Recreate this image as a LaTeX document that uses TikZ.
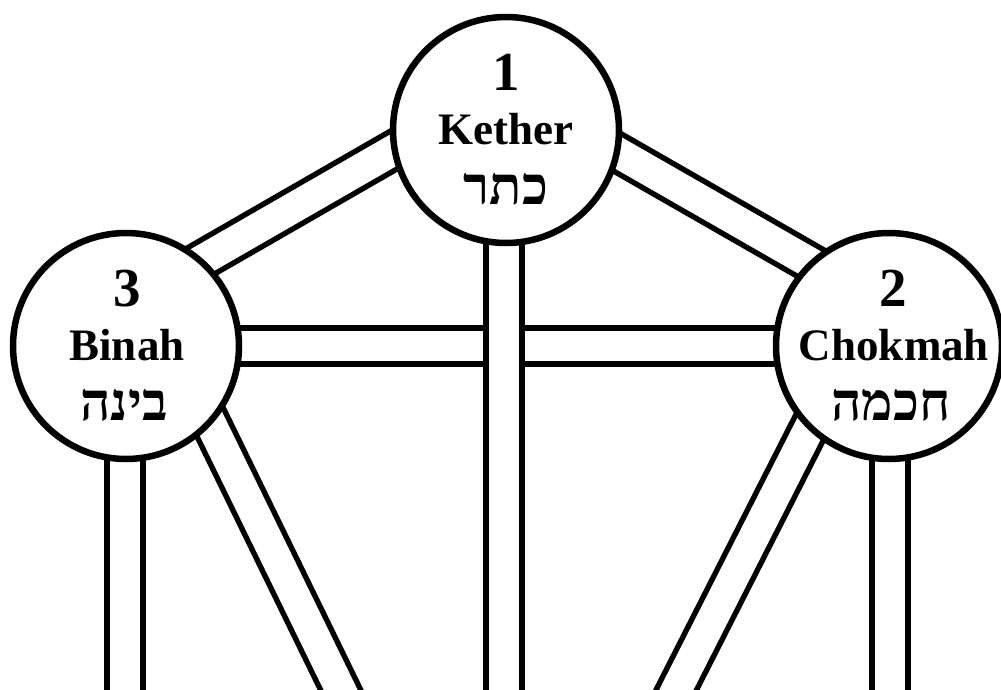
\documentclass[tikz,border=0pt]{standalone}
\usepackage{fontspec}
\setmainfont{Liberation Serif}
\newfontfamily\hebfont[Script=Hebrew]{Liberation Serif}
\TeXXeTstate=1
\usetikzlibrary{calc}
\begin{document}
\begin{tikzpicture}[x=1pt,y=-1pt,
  sephira/.style={circle, draw=black, line width=6.5pt, fill=white, minimum size=226pt, inner sep=0pt},
  pathway/.style={draw=black, line width=5.5pt, double=white, double distance=30.5pt},
  numtext/.style={anchor=base, font=\bfseries\fontsize{55}{55}\selectfont},
  nametext/.style={anchor=base, font=\bfseries\fontsize{45}{45}\selectfont},
  hebtext/.style={anchor=base, font=\hebfont\bfseries\fontsize{53}{53}\selectfont}]
\path[use as bounding box, clip] (0,0) rectangle (1001,689);
% centres
\coordinate (kc) at (506,130);
\coordinate (bc) at (126,346);
\coordinate (cc) at (889,346);
\coordinate (tiph) at (505,1027);
\coordinate (bbot) at (125,720);
\coordinate (cbot) at (890,720);
\coordinate (kbot) at (504,720);
% paths
\draw[pathway] ($(kc)+(-1,-44)$) -- ($(bc)+(0,-42)$);
\draw[pathway] ($(kc)+(-1,-42)$) -- ($(cc)+(0,-38)$);
\draw[pathway] (bc) -- (cc);
\draw[pathway] ($(kc)+(-2,0)$) -- (kbot);
\draw[pathway] ($(bc)+(-1,0)$) -- (bbot);
\draw[pathway] ($(cc)+(1,0)$) -- (cbot);
\draw[pathway] ($(bc)+(47,0)$) -- (tiph);
\draw[pathway] ($(cc)+(-38,0)$) -- (tiph);
% sephiroth
\node[sephira] (kether) at (kc) {};
\node[sephira] (binah) at (bc) {};
\node[sephira] (chokmah) at (cc) {};
% texts
\node[numtext] (n1) at ($(kc)+(0,-40)$) {1};
\node[nametext] (t1) at ($(kc)+(0,14)$) {Kether};
\node[hebtext] (h1) at ($(kc)+(0,74)$) {\beginR כתר\endR};
\node[numtext] (n3) at ($(bc)+(1,-40)$) {3};
\node[nametext] (t3) at ($(bc)+(1,14)$) {Binah};
\node[hebtext] (h3) at ($(bc)+(-2,74)$) {\beginR בינה\endR};
\node[numtext] (n2) at ($(cc)+(4,-40)$) {2};
\node[nametext] (t2) at ($(cc)+(5,14)$) {Chokmah};
\node[hebtext] (h2) at ($(cc)+(2,74)$) {\beginR חכמה\endR};
\end{tikzpicture}
\end{document}
